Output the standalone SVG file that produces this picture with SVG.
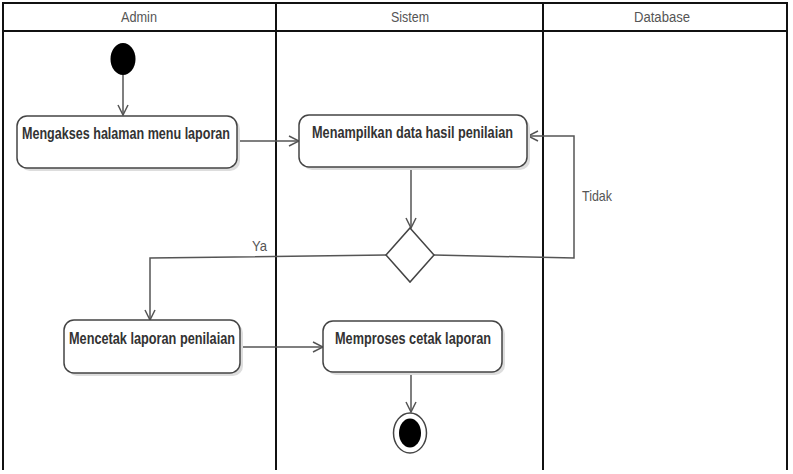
<svg xmlns="http://www.w3.org/2000/svg" width="793" height="474" viewBox="0 0 793 474">
<style>
.lane{fill:none;stroke:#111;stroke-width:2}
.hdr{font-family:"Liberation Sans",Arial,sans-serif;font-size:14px;fill:#555;text-anchor:middle}
.act{fill:#fff;stroke:#444;stroke-width:1.5}
.shadow{fill:#ddd;stroke:none}
.lbl{font-family:"Liberation Sans",Arial,sans-serif;font-size:16px;font-weight:bold;fill:#333}
.guard{font-family:"Liberation Sans",Arial,sans-serif;font-size:15px;fill:#555}
.con{fill:none;stroke:#555;stroke-width:1.5}
</style>
<defs>
<marker id="open" viewBox="0 0 12 12" refX="11" refY="6" markerWidth="12" markerHeight="12" markerUnits="userSpaceOnUse" orient="auto">
<path d="M1,1 L11,6 L1,11" fill="none" stroke="#555" stroke-width="1.5"/>
</marker>
</defs>
<rect width="793" height="474" fill="#fff"/>
<g id="swimlanes">
<path class="lane" d="M3,470 V3 H787 V470"/>
<line class="lane" x1="3" y1="31" x2="787" y2="31"/>
<line class="lane" x1="276" y1="3" x2="276" y2="470"/>
<line class="lane" x1="543" y1="3" x2="543" y2="470"/>
<text class="hdr" x="139" y="22" textLength="36" lengthAdjust="spacingAndGlyphs">Admin</text>
<text class="hdr" x="410" y="22" textLength="38" lengthAdjust="spacingAndGlyphs">Sistem</text>
<text class="hdr" x="662" y="22" textLength="56" lengthAdjust="spacingAndGlyphs">Database</text>
</g>
<g id="connectors">
<line class="con" x1="123" y1="75" x2="123" y2="115" marker-end="url(#open)"/>
<line class="con" x1="237" y1="141" x2="299" y2="141" marker-end="url(#open)"/>
<line class="con" x1="411" y1="167" x2="411" y2="228" marker-end="url(#open)"/>
<polyline class="con" points="434,255 574,258 574,136 528,136" marker-end="url(#open)"/>
<polyline class="con" points="386,255 150,258 150,320" marker-end="url(#open)"/>
<line class="con" x1="240" y1="347" x2="323" y2="347" marker-end="url(#open)"/>
<line class="con" x1="411" y1="372" x2="411" y2="412" marker-end="url(#open)"/>
<text class="guard" x="582" y="201" textLength="30" lengthAdjust="spacingAndGlyphs">Tidak</text>
<text class="guard" x="252" y="251" textLength="15" lengthAdjust="spacingAndGlyphs">Ya</text>
</g>
<g id="start">
<ellipse cx="123" cy="59" rx="12.5" ry="16" fill="#000"/>
</g>
<g id="act1">
<rect class="shadow" x="20" y="119" width="220" height="52" rx="10"/>
<rect class="act" x="17" y="116" width="220" height="52" rx="10"/>
<text class="lbl" x="22" y="139" textLength="208" lengthAdjust="spacingAndGlyphs">Mengakses halaman menu laporan</text>
</g>
<g id="act2">
<rect class="shadow" x="302" y="118" width="228" height="52" rx="10"/>
<rect class="act" x="299" y="115" width="228" height="52" rx="10"/>
<text class="lbl" x="312" y="138" textLength="201" lengthAdjust="spacingAndGlyphs">Menampilkan data hasil penilaian</text>
</g>
<g id="decision">
<polygon points="410,228 434,255 410,282 386,255" fill="#fff" stroke="#444" stroke-width="1.5"/>
</g>
<g id="act3">
<rect class="shadow" x="67" y="323" width="176" height="53" rx="10"/>
<rect class="act" x="64" y="320" width="176" height="53" rx="10"/>
<text class="lbl" x="69" y="344" textLength="166" lengthAdjust="spacingAndGlyphs">Mencetak laporan penilaian</text>
</g>
<g id="act4">
<rect class="shadow" x="326" y="324" width="179" height="51" rx="10"/>
<rect class="act" x="323" y="321" width="179" height="51" rx="10"/>
<text class="lbl" x="335" y="344" textLength="156" lengthAdjust="spacingAndGlyphs">Memproses cetak laporan</text>
</g>
<g id="end">
<ellipse cx="410" cy="433" rx="16.5" ry="20" fill="#fff" stroke="#444" stroke-width="1.5"/>
<ellipse cx="410" cy="433" rx="11" ry="14.5" fill="#000"/>
</g>
</svg>
